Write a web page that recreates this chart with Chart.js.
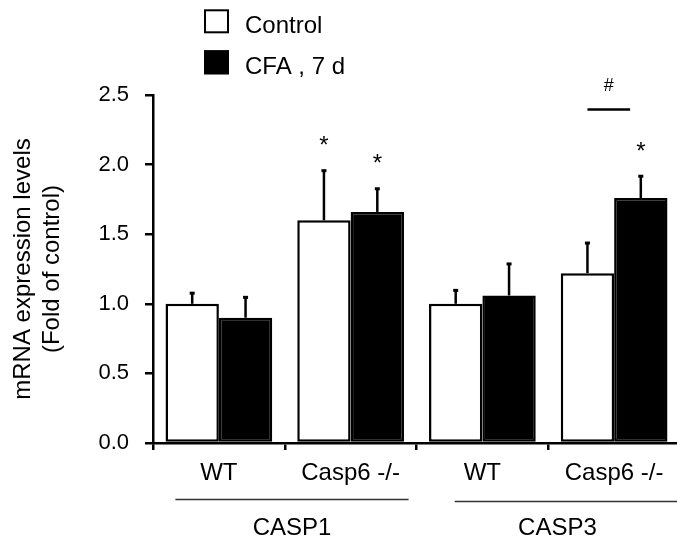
<!DOCTYPE html>
<html><head><meta charset="utf-8">
<script src="https://cdn.jsdelivr.net/npm/chart.js@4"></script>
<style>html,body{margin:0;padding:0;overflow:hidden;background:#fff;width:677px;height:541px}</style>
</head><body>
<canvas id="c" width="680" height="541" style="display:block;width:680px;height:541px"></canvas>
<script>
const categories = ['WT', 'Casp6 -/-', 'WT', 'Casp6 -/-'];
const groupLabels = ['CASP1', 'CASP3'];
const seriesNames = ['Control', 'CFA , 7 d'];
const controlValues = [1.00, 1.60, 1.00, 1.22];
const controlErrors = [0.08, 0.36, 0.10, 0.22];
const cfaValues = [0.90, 1.66, 1.06, 1.76];
const cfaErrors = [0.15, 0.17, 0.23, 0.16];
const controlMarks = ['', '*', '', ''];
const cfaMarks = ['', '*', '', '*'];
const yTicks = [0, 0.5, 1.0, 1.5, 2.0, 2.5];
const yTitle = ['mRNA expression levels', '(Fold of control)'];
const bracketLabel = '#';

const FONT = '"Liberation Sans", Arial, Helvetica, sans-serif';
const errorsByDataset = [controlErrors, cfaErrors];
const marksByDataset = [controlMarks, cfaMarks];

const annotate = {
  id: 'annotate',
  afterDatasetsDraw(chart) {
    const ctx = chart.ctx;
    const ys = chart.scales.y;
    const xs = chart.scales.x;
    ctx.save();
    const tops = [[], []];
    chart.data.datasets.forEach((ds, di) => {
      const meta = chart.getDatasetMeta(di);
      meta.data.forEach((bar, j) => {
        const v = ds.data[j];
        const e = errorsByDataset[di][j];
        const yTop = ys.getPixelForValue(v + e);
        tops[di][j] = {x: bar.x, y: yTop, w: bar.width};
        ctx.strokeStyle = '#000';
        ctx.lineWidth = 2.5;
        ctx.beginPath();
        ctx.moveTo(bar.x, bar.y);
        ctx.lineTo(bar.x, yTop);
        ctx.stroke();
        ctx.fillStyle = '#000';
        ctx.fillRect(bar.x - 2.5, yTop - 1, 5, 3);
        const m = marksByDataset[di][j];
        if (m) {
          ctx.font = '24px ' + FONT;
          ctx.textAlign = 'center';
          ctx.textBaseline = 'alphabetic';
          ctx.fillText(m, bar.x, yTop - 17);
        }
      });
    });
    // bracket with # over last category
    const c = tops[0][3];
    const lineY = ys.getPixelForValue(2.395);
    const x1 = c.x;
    const x2 = c.x + c.w * 0.8;
    ctx.strokeStyle = '#000';
    ctx.lineWidth = 2.5;
    ctx.beginPath();
    ctx.moveTo(x1, lineY);
    ctx.lineTo(x2, lineY);
    ctx.stroke();
    ctx.font = '18px ' + FONT;
    ctx.fillStyle = '#000';
    ctx.textAlign = 'center';
    ctx.textBaseline = 'alphabetic';
    ctx.fillText(bracketLabel, (x1 + x2) / 2, lineY - 19);
    ctx.restore();
  },
  afterDraw(chart) {
    const ctx = chart.ctx;
    const xs = chart.scales.x;
    ctx.save();
    // group labels under axis
    const spans = [[-0.33, 1.44, 0.555, 499.5], [1.79, 3.6, 2.57, 501.5]];
    groupLabels.forEach((g, i) => {
      const s = spans[i];
      ctx.strokeStyle = '#333';
      ctx.lineWidth = 1.3;
      ctx.beginPath();
      ctx.moveTo(xs.getPixelForValue(s[0]), s[3]);
      ctx.lineTo(xs.getPixelForValue(s[1]), s[3]);
      ctx.stroke();
      ctx.font = '24px ' + FONT;
      ctx.fillStyle = '#000';
      ctx.textAlign = 'center';
      ctx.textBaseline = 'alphabetic';
      ctx.fillText(g, xs.getPixelForValue(s[2]), 534.5);
    });
    // legend
    chart.data.datasets.forEach((ds, i) => {
      const base = 33.3 + i * 41;
      const bx = 204, bw = 25, bh = 24;
      ctx.fillStyle = ds.backgroundColor;
      ctx.fillRect(bx, base - bh, bw, bh);
      ctx.strokeStyle = '#000';
      ctx.lineWidth = 2;
      ctx.strokeRect(bx + 1, base - bh + 1, bw - 2, bh - 2);
      ctx.fillStyle = '#000';
      ctx.font = '24px ' + FONT;
      ctx.textAlign = 'left';
      ctx.textBaseline = 'alphabetic';
      ctx.fillText(ds.label, 245, base);
    });
    ctx.restore();
  }
};

new Chart(document.getElementById('c'), {
  type: 'bar',
  data: {
    labels: categories,
    datasets: [
      {label: seriesNames[0], data: controlValues, backgroundColor: '#ffffff', borderColor: '#000', borderWidth: 2.5, borderSkipped: false},
      {label: seriesNames[1], data: cfaValues, backgroundColor: '#000000', borderColor: '#000', borderWidth: 2.5, borderSkipped: false}
    ]
  },
  options: {
    responsive: false,
    devicePixelRatio: 1,
    animation: false,
    categoryPercentage: 0.81,
    barPercentage: 1.0,
    layout: {padding: {left: 0, right: 0, top: 95, bottom: 0}},
    plugins: {legend: {display: false}, tooltip: {enabled: false}},
    scales: {
      x: {
        type: 'category',
        offset: true,
        grid: {display: true, drawOnChartArea: false, drawTicks: true, tickLength: 7, color: '#000', lineWidth: 2.5, offset: true},
        border: {display: true, color: '#000', width: 2.5},
        ticks: {color: '#000', font: {family: FONT, size: 24}, padding: 9, maxRotation: 0, autoSkip: false},
        afterFit(scale) { scale.height = 98; }
      },
      y: {
        min: 0, max: 2.5,
        afterBuildTicks(scale) { scale.ticks = yTicks.map(v => ({value: v})); },
        grid: {display: true, drawOnChartArea: false, drawTicks: true, tickLength: 8, color: '#000', lineWidth: 2.5},
        border: {display: true, color: '#000', width: 2.5},
        ticks: {color: '#000', font: {family: FONT, size: 22}, padding: 16, callback: v => Number(v).toFixed(1)},
        title: {display: true, text: yTitle, color: '#000', font: {family: FONT, size: 24}, padding: {top: 9, bottom: 0}},
        afterFit(scale) { scale.width = 153; }
      }
    }
  },
  plugins: [annotate]
});
</script>
</body></html>
